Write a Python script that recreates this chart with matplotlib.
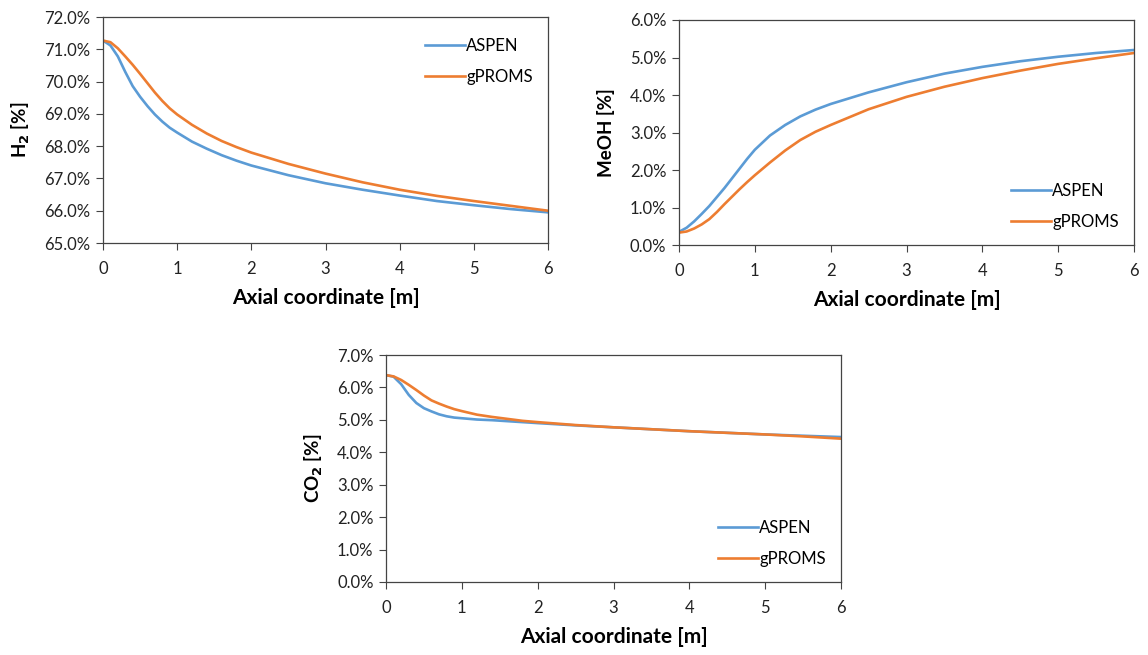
import matplotlib
matplotlib.use("Agg")
import matplotlib.pyplot as plt
from matplotlib.ticker import FuncFormatter, MultipleLocator

plt.rcParams['font.family'] = ['Lato', 'DejaVu Sans']

# Axial coordinate [m]
x = [0, 0.1, 0.2, 0.3, 0.4, 0.5, 0.6, 0.7, 0.8, 0.9, 1.0,
     1.2, 1.4, 1.6, 1.8, 2.0, 2.5, 3.0, 3.5, 4.0, 4.5, 5.0, 5.5, 6.0]

h2_aspen  = [71.27, 71.12, 70.78, 70.3, 69.86, 69.53, 69.24, 68.98, 68.76, 68.57, 68.42,
             68.14, 67.92, 67.72, 67.55, 67.4, 67.1, 66.85, 66.65, 66.47, 66.3, 66.17, 66.05, 65.95]
h2_gproms = [71.27, 71.22, 71.03, 70.78, 70.52, 70.24, 69.95, 69.66, 69.4, 69.17, 68.98,
             68.66, 68.39, 68.16, 67.97, 67.8, 67.45, 67.15, 66.88, 66.65, 66.46, 66.3, 66.15, 66.0]

meoh_aspen  = [0.35, 0.46, 0.63, 0.83, 1.04, 1.28, 1.52, 1.78, 2.04, 2.3, 2.54,
               2.92, 3.2, 3.43, 3.61, 3.76, 4.07, 4.34, 4.57, 4.75, 4.9, 5.02, 5.12, 5.2]
meoh_gproms = [0.33, 0.36, 0.44, 0.55, 0.69, 0.88, 1.09, 1.29, 1.49, 1.68, 1.86,
               2.2, 2.52, 2.8, 3.02, 3.2, 3.62, 3.95, 4.22, 4.45, 4.65, 4.83, 4.98, 5.12]

co2_aspen  = [6.38, 6.33, 6.1, 5.77, 5.52, 5.36, 5.26, 5.17, 5.11, 5.07, 5.05,
              5.01, 4.99, 4.96, 4.93, 4.9, 4.83, 4.77, 4.71, 4.65, 4.6, 4.55, 4.51, 4.47]
co2_gproms = [6.38, 6.34, 6.23, 6.08, 5.92, 5.75, 5.6, 5.5, 5.41, 5.33, 5.27,
              5.16, 5.09, 5.03, 4.97, 4.93, 4.84, 4.77, 4.71, 4.65, 4.6, 4.55, 4.49, 4.42]

xlabel = "Axial coordinate [m]"
series_names = ["ASPEN", "gPROMS"]
colors = ["#5B9BD5", "#ED7D31"]

W, H = 1148, 655
fig = plt.figure(figsize=(W/100, H/100), dpi=100)

def rect(l, t, r, b):
    return [l/W, 1 - b/H, (r-l)/W, (b-t)/H]

pct = FuncFormatter(lambda v, p: f"{v:.1f}%")

def setup(ax, ya, yg, ylim, ylabel, ylab_x, legend_loc, legend_anchor):
    ax.plot(x, ya, color=colors[0], lw=1.9, label=series_names[0])
    ax.plot(x, yg, color=colors[1], lw=1.9, label=series_names[1])
    ax.set_xlim(0, 6)
    ax.set_ylim(*ylim)
    ax.xaxis.set_major_locator(MultipleLocator(1))
    ax.yaxis.set_major_locator(MultipleLocator(1))
    ax.yaxis.set_major_formatter(pct)
    ax.tick_params(axis='both', direction='out', length=5, width=0.8, color='#444444',
                   labelsize=12, labelcolor='#222222')
    ax.tick_params(axis='x', pad=8)
    ax.tick_params(axis='y', pad=4)
    for s in ax.spines.values():
        s.set_color('#444444')
        s.set_linewidth(0.9)
    ax.set_xlabel(xlabel, fontsize=15, fontweight='bold')
    ax.xaxis.set_label_coords(0.5, -0.243)
    ax.xaxis.label.set_va('center')
    ax.set_ylabel(ylabel, fontsize=13.5, fontweight='bold')
    ax.yaxis.set_label_coords(ylab_x, 0.5)
    ax.yaxis.label.set_va('center')
    ax.legend(loc=legend_loc, bbox_to_anchor=legend_anchor, frameon=False,
              fontsize=12, handlelength=2.4, handletextpad=0.1, labelspacing=0.9)
    return ax

ax1 = fig.add_axes(rect(103, 17, 548, 243))
setup(ax1, h2_aspen, h2_gproms, (65, 72), "H$_\\mathbf{2}$ [%]", -0.185, 'upper right', (1.0, 0.975))

ax2 = fig.add_axes(rect(679, 20, 1134, 245))
setup(ax2, meoh_aspen, meoh_gproms, (0, 6), "MeOH [%]", -0.160, 'lower right', (1.0, 0.0))

ax3 = fig.add_axes(rect(386, 355, 841, 582))
setup(ax3, co2_aspen, co2_gproms, (0, 7), "CO$_\\mathbf{2}$ [%]", -0.158, 'lower right', (1.0, 0.0))

fig.savefig("out.png", dpi=100)
